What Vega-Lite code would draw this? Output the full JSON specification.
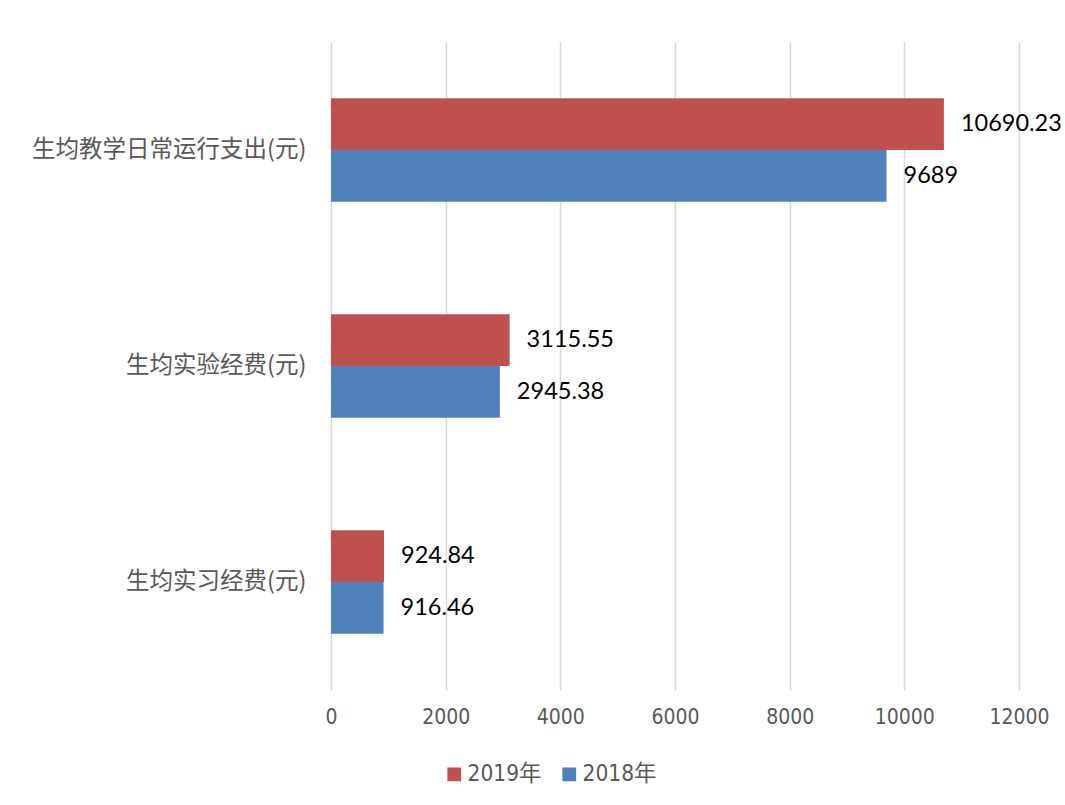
{
  "$schema": "https://vega.github.io/schema/vega-lite/v6.json",
  "autosize": {"type": "none"},
  "width": 688,
  "height": 648,
  "padding": {"left": 331, "top": 42, "right": 46, "bottom": 115},
  "background": "white",
  "config": {"view": {"stroke": null}},
  "data": {
    "values": [
      {"item": "生均教学日常运行支出(元)", "year": "2019年", "value": 10690.23, "label": "10690.23"},
      {"item": "生均教学日常运行支出(元)", "year": "2018年", "value": 9689, "label": "9689"},
      {"item": "生均实验经费(元)", "year": "2019年", "value": 3115.55, "label": "3115.55"},
      {"item": "生均实验经费(元)", "year": "2018年", "value": 2945.38, "label": "2945.38"},
      {"item": "生均实习经费(元)", "year": "2019年", "value": 924.84, "label": "924.84"},
      {"item": "生均实习经费(元)", "year": "2018年", "value": 916.46, "label": "916.46"}
    ]
  },
  "encoding": {
    "y": {
      "field": "item", "type": "nominal", "sort": null, "title": null,
      "scale": {"paddingInner": 0.52, "paddingOuter": 0.26},
      "axis": {"ticks": false, "domain": false, "labelFont": "Noto Sans CJK SC", "labelFontSize": 23.5, "labelColor": "#595959", "labelPadding": 25, "labelLimit": 400}
    },
    "yOffset": {"field": "year", "type": "nominal", "sort": ["2019年", "2018年"], "scale": {"domain": ["2019年", "2018年"], "paddingInner": 0, "paddingOuter": 0}},
    "x": {
      "field": "value", "type": "quantitative", "title": null,
      "scale": {"domain": [0, 12000], "nice": false},
      "axis": {"values": [0, 2000, 4000, 6000, 8000, 10000, 12000], "format": "d", "ticks": false, "domain": false, "grid": true, "gridColor": "#D9D9D9", "gridWidth": 1.5, "labelFlush": false, "labelFont": "DejaVu Sans Condensed, Lato, sans-serif", "labelFontSize": 21, "labelColor": "#595959", "labelPadding": 16}
    }
  },
  "layer": [
    {
      "mark": {"type": "bar"},
      "encoding": {
        "color": {
          "field": "year", "type": "nominal",
          "scale": {"domain": ["2019年", "2018年"], "range": ["#C0504D", "#4F81BD"]},
          "legend": {"title": null, "orient": "none", "direction": "horizontal", "legendX": 112, "legendY": 721, "symbolType": "square", "symbolSize": 190, "symbolStrokeWidth": 0, "labelFont": "DejaVu Sans Condensed, Noto Sans CJK SC, sans-serif", "labelFontSize": 22.5, "labelColor": "#595959", "labelOffset": 2, "columnPadding": 16}
        }
      }
    },
    {
      "mark": {"type": "text", "align": "left", "baseline": "middle", "dx": 17, "font": "Lato", "fontSize": 23.5, "color": "#000000"},
      "encoding": {"text": {"field": "label"}}
    }
  ]
}
